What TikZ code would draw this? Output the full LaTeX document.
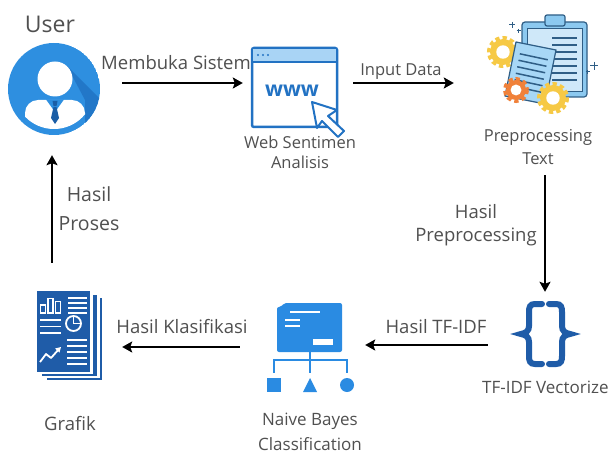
\documentclass[tikz,border=0pt]{standalone}
\usepackage{fontspec}
\setmainfont{Open Sans}
\usetikzlibrary{arrows.meta,calc}

\definecolor{txt}{HTML}{505050}
\definecolor{userblue}{HTML}{2E8FE0}
\definecolor{usershade}{HTML}{2277C8}
\definecolor{tieblue}{HTML}{1B5EA6}
\definecolor{webblue}{HTML}{2272C3}
\definecolor{webbar}{HTML}{A9D4F5}
\definecolor{pdark}{HTML}{2F5E86}
\definecolor{pclip}{HTML}{8CC9F0}
\definecolor{ppaper}{HTML}{CFE8F9}
\definecolor{psheet}{HTML}{A7D7F6}
\definecolor{gearyellow}{HTML}{F6C945}
\definecolor{gearorange}{HTML}{F0813A}
\definecolor{navy}{HTML}{1F5CA8}
\definecolor{nbblue}{HTML}{2A8BE2}

\tikzset{
  lbl/.style={text=txt, inner sep=0pt, align=center},
  fsz/.style 2 args={font=\fontsize{#1}{#2}\selectfont},
  flow/.style={line width=2.8pt, -{Stealth[length=10pt,width=11pt,inset=2pt]}},
  box/.style={inner sep=0pt, draw=none},
  pics/gear/.style 2 args={code={
    \fill[#2] (0,0) circle[radius=#1-3];
    \draw[#2, line width=5pt, dash pattern=on 4pt off 3pt] (0,0) circle[radius=#1-2.5];
    \fill[white] (0,0) circle[radius=0.42*#1];
  }}
}

\begin{document}
\begin{tikzpicture}[x=1pt,y=-1pt]
\useasboundingbox (0,0) rectangle (609,454);
\fill[white] (0,0) rectangle (609,454);

% ---------- icon frames ----------
\node[box, circle, minimum size=92pt] (user) at (54,89) {};
\node[box, minimum width=85pt, minimum height=79pt] (web) at (294.5,87.5) {};
\node[box, minimum width=100pt, minimum height=100pt] (prep) at (545,65) {};
\node[box, minimum width=56pt, minimum height=67pt] (tfidf) at (545,333.5) {};
\node[box, minimum width=90pt, minimum height=91pt] (nb) at (310,347.5) {};
\node[box, minimum width=66pt, minimum height=90pt] (grafik) at (70,336) {};

% ---------- user ----------
\begin{scope}
  \clip (54,89) circle[radius=46];
  \fill[userblue] (54,89) circle[radius=46];
  \fill[usershade] (67,66) -- (140,139) -- (85,160) -- (85,100) -- cycle;
\end{scope}
\fill[white] (55,79) circle[radius=17.5];
\begin{scope}
  \clip (54,89) circle[radius=40];
  \fill[white, rounded corners=13pt] (25,100) rectangle (85,150);
\end{scope}
\fill[userblue] (46,99.5) -- (64,99.5) -- (55,112) -- cycle;
\fill[tieblue] (52.5,101) -- (57.5,101) -- (56.5,106) -- (53.5,106) -- cycle;
\fill[tieblue] (53.5,107) -- (56.5,107) -- (59,118) -- (55,124) -- (51,118) -- cycle;

% ---------- web browser ----------
\draw[webblue, line width=2.5pt, fill=white, rounded corners=2pt] (252,48) rectangle (337,127);
\fill[webbar] (253.3,49.3) rectangle (335.7,61);
\draw[webblue, line width=2pt] (252,62) -- (337,62);
\foreach \dx in {258,263,268} \fill[webblue] (\dx,55) circle[radius=1.1];
\node[font=\bfseries\fontsize{21}{21}\selectfont, text=webblue, inner sep=0pt] (www) at (292,91) {www};
\draw[webblue, line width=2pt, fill=white, line join=round]
  (312,102) -- (337,110) -- (328,116) -- (344,131) -- (338,137) -- (322,121) -- (317,128) -- cycle;

% ---------- preprocessing ----------
\draw[pdark, fill=pclip, rounded corners=3pt, line width=1.2pt] (522,22) rectangle (587,97);
\draw[pdark, fill=ppaper, line width=1pt] (527,29) rectangle (582,92);
\draw[pdark, fill=pclip, rounded corners=2pt, line width=1.2pt] (545,15) rectangle (565,26);
\foreach \y in {38,45,52,59,66,73,80} \draw[pdark, line width=1.5pt] (552,\y) -- (577,\y);
\pic at (503,52) {gear={16}{gearyellow}};
\coordinate (sa) at (516,42);
\coordinate (sb) at (556,50);
\coordinate (sc) at (545,104);
\coordinate (sd) at (505,96);
\draw[pdark, fill=psheet, line width=1.2pt, line join=round] (sa) -- (sb) -- (sc) -- (sd) -- cycle;
\foreach \t in {0.2,0.32,0.44,0.56,0.68,0.8}
  \draw[pdark, line width=1.5pt] ($(sa)!\t!(sd)+(6,1)$) -- ($(sb)!\t!(sc)+(-6,-1)$);
\pic at (516,90) {gear={13}{gearorange}};
\pic at (553,98) {gear={16}{gearyellow}};
\draw[pdark, line width=1pt] (509,25) -- (515,25) (512,22) -- (512,28)
  (516.5,31) -- (520.5,31) (518.5,29) -- (518.5,33)
  (590,66) -- (598,66) (594,62) -- (594,70)
  (585.5,72) -- (589.5,72) (587.5,70) -- (587.5,74);

% ---------- TF-IDF braces ----------
\draw[navy, line width=6pt, line cap=round]
  (542,304) -- (535,304) .. controls (530,304) and (529,307) .. (529,312) -- (529,326)
  .. controls (529,331) and (526,333) .. (521,334)
  .. controls (526,335) and (529,337) .. (529,342) -- (529,356)
  .. controls (529,361) and (530,364) .. (535,364) -- (542,364);
\draw[navy, line width=6pt, line cap=round]
  (549,304) -- (556,304) .. controls (561,304) and (562,307) .. (562,312) -- (562,326)
  .. controls (562,331) and (565,333) .. (570,334)
  .. controls (565,335) and (562,337) .. (562,342) -- (562,356)
  .. controls (562,361) and (561,364) .. (556,364) -- (549,364);

% ---------- naive bayes ----------
\fill[nbblue, rounded corners=2pt] (277,352) -- (277,307) -- (281,307) -- (284,303) -- (342,303) -- (342,352) -- cycle;
\draw[white, line width=1.6pt] (290,312) -- (320,312) (285,320) -- (300,320) (285,326) -- (300,326);
\fill[white] (313,339) rectangle (333,345);
\draw[nbblue, line width=1.6pt] (310,352) -- (310,360) (274,360) -- (347,360)
  (274,359.2) -- (274,373) (310,360) -- (310,373) (347,359.2) -- (347,373);
\fill[nbblue] (267,378) rectangle (281,392);
\fill[nbblue] (303,392) -- (317,392) -- (310,378) -- cycle;
\fill[nbblue] (347,385) circle[radius=7];

% ---------- report ----------
\fill[navy] (47,298) rectangle (102,380);
\fill[white] (45,296) rectangle (99.5,377.5);
\fill[navy] (42,294.5) rectangle (96.5,376);
\fill[white] (40,293) rectangle (93,373.5);
\fill[navy] (37,291) rectangle (90,372);
\begin{scope}[white, line width=1.3pt]
  \draw (40.5,305) rectangle (45.5,313) (48,298.5) rectangle (53,313) (55.5,301.5) rectangle (60.5,313);
  \draw (68,298) -- (87,298) (68,303) -- (87,303) (68,308) -- (87,308) (68,313) -- (87,313);
  \draw[line width=1.8pt] (40,320) -- (61,320) (40,326.5) -- (61,326.5) (40,333) -- (61,333);
  \draw[line width=1.8pt] (73.5,323.5) circle[radius=7.5];
  \draw[line width=1.6pt] (73.5,316) -- (73.5,323.5) -- (81,323.5);
  \draw[line width=1.8pt, line join=round] (40,362) -- (46,354) -- (51,358) -- (59,349);
  \fill (61,347) -- (55,348.5) -- (59.5,352.5) -- cycle;
  \draw[line width=1.8pt] (67,340) -- (87,340) (67,346) -- (87,346) (67,352) -- (87,352) (67,358) -- (87,358) (67,364) -- (87,364);
\end{scope}

% ---------- connectors ----------
\draw[flow] ($(user.east)+(22,-6)$) -- ($(web.west)+(-9,-4.5)$);
\draw[flow] ($(web.east)+(16,-4.5)$) -- ($(prep.west)+(-41,18)$);
\draw[flow] ($(prep.south)+(0,60)$) -- ($(tfidf.north)+(0,-8)$);
\draw[flow] ($(tfidf.west)+(-29,11.5)$) -- ($(nb.east)+(10,-2.5)$);
\draw[flow] ($(nb.west)+(-25,-0.5)$) -- ($(grafik.east)+(19,11)$);
\draw[flow] ($(grafik.north)+(-18,-28)$) -- ($(user.south)+(-2,20)$);

% ---------- labels ----------
\node[lbl, fsz={23}{23}, anchor=base] (userlbl) at (50,33) {User};
\node[lbl, fsz={18.5}{18.5}, anchor=base] (l1) at (176,70) {Membuka Sistem};
\node[lbl, fsz={16.5}{16.5}, anchor=base] (l2) at (401,76) {Input Data};
\node[lbl, fsz={16.5}{19}, anchor=north] (weblbl) at (300,136) {Web Sentimen\\[1pt]Analisis};
\node[lbl, fsz={16.5}{18}, anchor=north] (preplbl) at (538,129) {Preprocessing\\[5pt]Text};
\node[lbl, fsz={18.5}{23}, anchor=north] (l3) at (476,204) {Hasil\\Preprocessing};
\node[lbl, fsz={18.5}{18.5}, anchor=base] (l4) at (436,333) {Hasil TF-IDF};
\node[lbl, fsz={18.5}{18.5}, anchor=base] (l5) at (182,333) {Hasil Klasifikasi};
\node[lbl, fsz={19.5}{29}, anchor=north] (l6) at (89,186) {Hasil\\Proses};
\node[lbl, fsz={17}{25}, anchor=north] (nblbl) at (310,413) {Naive Bayes\\Classification};
\node[lbl, fsz={18.5}{18.5}, anchor=base] (graflbl) at (70,430) {Grafik};
\node[lbl, fsz={17}{17}, anchor=base west] (tfidflbl) at (482,393) {TF-IDF Vectorize};
\end{tikzpicture}
\end{document}
